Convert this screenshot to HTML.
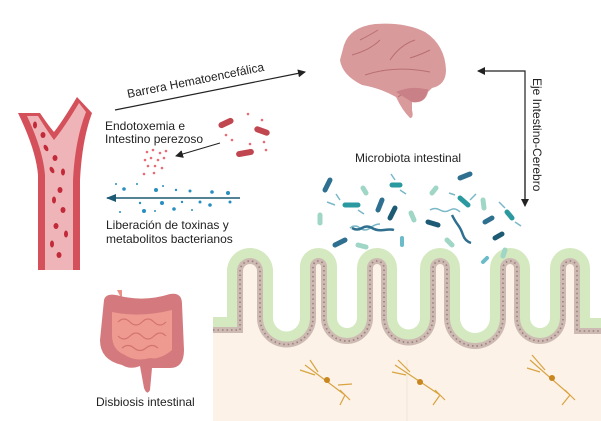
<!DOCTYPE html>
<html><head><meta charset="utf-8"><style>
html,body{margin:0;padding:0;background:#fff;}
svg{display:block;}
text{font-family:"Liberation Sans",sans-serif;fill:#222;font-size:12px;}
</style></head><body>
<svg width="601" height="421" viewBox="0 0 601 421" xmlns="http://www.w3.org/2000/svg">
<defs>
<marker id="ah" markerWidth="8" markerHeight="8" refX="7" refY="4" orient="auto" markerUnits="userSpaceOnUse"><path d="M0,0 L8,4 L0,8 Z" fill="#222"/></marker>
<marker id="ah2" markerWidth="10" markerHeight="8" refX="9" refY="4" orient="auto" markerUnits="userSpaceOnUse"><path d="M0,0 L10,4 L0,8 Z" fill="#1d5a74"/></marker>
</defs>
<path d="M213,317 L227,317 L227,271 A23,23 0 0 1 273,271 L273,318 A13.5,13.5 0 0 0 300,318 L300,266.5 A18.5,18.5 0 0 1 337,266.5 L337,318 A10,10 0 0 0 357,318 L357,268 A20,20 0 0 1 397,268 L397,318 A11.5,11.5 0 0 0 420,318 L420,268 A20,20 0 0 1 460,268 L460,318 A15,15 0 0 0 490,318 L490,268 A20,20 0 0 1 530,268 L530,318 A10,10 0 0 0 550,318 L550,268 A20,20 0 0 1 590,268 L590,318 L601,318 L601,421 L213,421 Z" fill="#d4e9bf"/>
<path d="M213,327 L237,327 L237,271 A13,13 0 0 1 263,271 L263,318 A23.5,23.5 0 0 0 310,318 L310,266.5 A8.5,8.5 0 0 1 327,266.5 L327,318 A20,20 0 0 0 367,318 L367,268 A10,10 0 0 1 387,268 L387,318 A21.5,21.5 0 0 0 430,318 L430,268 A10,10 0 0 1 450,268 L450,318 A25,25 0 0 0 500,318 L500,268 A10,10 0 0 1 520,268 L520,318 A20,20 0 0 0 560,318 L560,268 A10,10 0 0 1 580,268 L580,328 L601,328 L601,421 L213,421 Z" fill="#cdbab3"/>
<path d="M213,333 L243,333 L243,271 A7,7 0 0 1 257,271 L257,318 A29.5,29.5 0 0 0 316,318 L316,266.5 A2.5,2.5 0 0 1 321,266.5 L321,318 A26,26 0 0 0 373,318 L373,268 A4,4 0 0 1 381,268 L381,318 A27.5,27.5 0 0 0 436,318 L436,268 A4,4 0 0 1 444,268 L444,318 A31,31 0 0 0 506,318 L506,268 A4,4 0 0 1 514,268 L514,318 A26,26 0 0 0 566,318 L566,268 A4,4 0 0 1 574,268 L574,334 L601,334 L601,421 L213,421 Z" fill="#fcf2e8"/>
<path d="M213,330 L240,330 L240,271 A10,10 0 0 1 260,271 L260,318 A26.5,26.5 0 0 0 313,318 L313,266.5 A5.5,5.5 0 0 1 324,266.5 L324,318 A23,23 0 0 0 370,318 L370,268 A7,7 0 0 1 384,268 L384,318 A24.5,24.5 0 0 0 433,318 L433,268 A7,7 0 0 1 447,268 L447,318 A28,28 0 0 0 503,318 L503,268 A7,7 0 0 1 517,268 L517,318 A23,23 0 0 0 563,318 L563,268 A7,7 0 0 1 577,268 L577,331 L601,331" fill="none" stroke="#9c7f78" stroke-width="1.6" stroke-dasharray="1.5 3"/>
<line x1="407" y1="360" x2="407" y2="421" stroke="#efe6d8"/>
<g stroke="#d9a441" stroke-width="1.2" fill="none">
<path d="M305,365 L345,395 M310,360 L318,372 M300,370 L315,375 M340,390 L350,400 M345,395 L340,405 M338,385 L352,384"/>
<path d="M395,365 L440,395 M398,360 L410,372 M392,372 L406,375 M435,390 L445,400 M440,395 L433,405"/>
<path d="M530,360 L570,395 M532,355 L545,370 M527,368 L540,372 M565,390 L575,400 M570,395 L562,405"/>
</g>
<circle cx="327" cy="380" r="3" fill="#c9861f"/><circle cx="420" cy="382" r="3" fill="#c9861f"/><circle cx="552" cy="378" r="3" fill="#c9861f"/>
<g stroke-linecap="round">
<line x1="325" y1="190" x2="330" y2="180" stroke="#2f6f8f" stroke-width="5"/>
<line x1="345" y1="205" x2="358" y2="205" stroke="#2a9aa0" stroke-width="5"/>
<line x1="392" y1="185" x2="400" y2="185" stroke="#2a9aa0" stroke-width="5"/>
<line x1="378" y1="210" x2="382" y2="200" stroke="#2f6f8f" stroke-width="5"/>
<line x1="390" y1="218" x2="395" y2="208" stroke="#1d5a74" stroke-width="5"/>
<line x1="335" y1="245" x2="345" y2="240" stroke="#2f6f8f" stroke-width="5"/>
<line x1="460" y1="178" x2="470" y2="174" stroke="#2f6f8f" stroke-width="5"/>
<line x1="460" y1="198" x2="468" y2="205" stroke="#2a9aa0" stroke-width="5"/>
<line x1="428" y1="222" x2="438" y2="225" stroke="#1d5a74" stroke-width="5"/>
<line x1="485" y1="222" x2="492" y2="218" stroke="#2f6f8f" stroke-width="5"/>
<line x1="495" y1="238" x2="502" y2="234" stroke="#1d5a74" stroke-width="5"/>
<line x1="507" y1="212" x2="512" y2="218" stroke="#2a9aa0" stroke-width="5"/>
<line x1="402" y1="238" x2="402" y2="245" stroke="#6bbcc8" stroke-width="4"/>
<line x1="483" y1="262" x2="487" y2="258" stroke="#6bbcc8" stroke-width="4"/>
<line x1="363" y1="188" x2="366" y2="193" stroke="#9fd6c5" stroke-width="5"/>
<line x1="320" y1="215" x2="320" y2="223" stroke="#9fd6c5" stroke-width="5"/>
<line x1="358" y1="245" x2="366" y2="247" stroke="#9fd6c5" stroke-width="5"/>
<line x1="411" y1="213" x2="414" y2="220" stroke="#9fd6c5" stroke-width="5"/>
<line x1="432" y1="193" x2="436" y2="188" stroke="#9fd6c5" stroke-width="5"/>
<line x1="447" y1="240" x2="452" y2="245" stroke="#9fd6c5" stroke-width="5"/>
<line x1="483" y1="200" x2="484" y2="208" stroke="#9fd6c5" stroke-width="5"/>
<line x1="505" y1="250" x2="503" y2="256" stroke="#9fd6c5" stroke-width="5"/>
</g>
<g fill="none" stroke="#7ab8c8" stroke-width="1.5">
<path d="M350,228 q5,-4 10,0 t10,0 t10,-4"/>
<path d="M352,228 q5,3 10,0 t10,0 t12,2 t10,0" stroke="#2f6f8f" stroke-width="2.5"/>
<path d="M430,210 q5,-3 10,0 t10,0 t10,2"/>
<path d="M452,215 q3,6 6,10 t5,10 t8,8" stroke="#2f6f8f" stroke-width="2.5"/>
<path d="M335,205 l-8,-3 M340,200 l-4,-6 M358,210 l6,4 M395,180 l-4,-6 M400,190 l6,4 M470,200 l6,-6 M455,195 l-6,-2 M505,208 l-6,-6 M515,222 l6,4"/>
</g>
<path d="M18,113 L40,113 Q48,125 54,132 Q62,122 77,97 L92,113 Q82,140 80,180 L80,270 L38,270 L38,175 Q36,150 18,113 Z" fill="#d4505a"/>
<path d="M27,116 L38,116 Q48,132 54,140 Q64,128 79,103 L86,112 Q75,140 73,180 L73,270 L45,270 L45,175 Q43,150 27,116 Z" fill="#efb4b7"/>
<g fill="#c22a3a">
<ellipse cx="35" cy="125" rx="2" ry="3.5"/><ellipse cx="43" cy="135" rx="2.5" ry="3"/><ellipse cx="46" cy="148" rx="2" ry="3.5" transform="rotate(-30 46 148)"/><ellipse cx="55" cy="158" rx="2.5" ry="3"/>
<ellipse cx="52" cy="170" rx="2" ry="3.5" transform="rotate(-30 52 170)"/><ellipse cx="63" cy="172" rx="2" ry="3.5"/><ellipse cx="60" cy="190" rx="2.5" ry="3"/><ellipse cx="54" cy="200" rx="2" ry="3.5"/>
<ellipse cx="63" cy="210" rx="2.5" ry="3"/><ellipse cx="56" cy="226" rx="2.5" ry="3"/><ellipse cx="66" cy="234" rx="2" ry="3.5"/><ellipse cx="52" cy="244" rx="2" ry="3.5"/><ellipse cx="59" cy="255" rx="2.5" ry="3"/>
</g>
<line x1="115" y1="110" x2="305" y2="72" stroke="#222" stroke-width="1.2" marker-end="url(#ah)"/>
<text x="128" y="98" transform="rotate(-11.3 128 98)">Barrera Hematoencefálica</text>
<text x="105" y="130">Endotoxemia e</text>
<text x="105" y="143">Intestino perezoso</text>
<g fill="#c0474f">
<rect x="218" y="120" width="16" height="6" rx="3" transform="rotate(-25 226 123)"/>
<rect x="254" y="128" width="16" height="6" rx="3" transform="rotate(20 262 131)"/>
<rect x="236" y="150" width="18" height="6" rx="3" transform="rotate(-10 245 153)"/>
</g>
<g fill="#e86b75">
<circle cx="147" cy="152" r="1.3"/><circle cx="153" cy="150" r="1.3"/><circle cx="160" cy="153" r="1.3"/><circle cx="166" cy="151" r="1.3"/>
<circle cx="145" cy="160" r="1.3"/><circle cx="151" cy="158" r="1.3"/><circle cx="158" cy="160" r="1.3"/><circle cx="164" cy="158" r="1.3"/>
<circle cx="148" cy="166" r="1.3"/><circle cx="155" cy="166" r="1.3"/><circle cx="162" cy="168" r="1.3"/><circle cx="144" cy="174" r="1.3"/><circle cx="154" cy="173" r="1.3"/>
<circle cx="248" cy="114" r="1.3"/><circle cx="262" cy="120" r="1.3"/><circle cx="232" cy="140" r="1.3"/><circle cx="250" cy="144" r="1.3"/><circle cx="264" cy="142" r="1.3"/><circle cx="266" cy="150" r="1.3"/><circle cx="226" cy="135" r="1.3"/>
</g>
<line x1="220" y1="143" x2="176" y2="156" stroke="#222" stroke-width="1" marker-end="url(#ah)"/>
<line x1="240" y1="198" x2="107" y2="198" stroke="#1d5a74" stroke-width="1.5" marker-end="url(#ah2)"/>
<g fill="#2a8fc0">
<circle cx="124" cy="189" r="1.8"/><circle cx="137" cy="184" r="1"/><circle cx="156" cy="190" r="2"/><circle cx="176" cy="190" r="1.2"/><circle cx="190" cy="191" r="1.5"/><circle cx="212" cy="192" r="1.8"/><circle cx="228" cy="193" r="2"/><circle cx="116" cy="184" r="1"/><circle cx="163" cy="186" r="1"/>
<circle cx="140" cy="203" r="1.2"/><circle cx="162" cy="203" r="2"/><circle cx="182" cy="202" r="1.2"/><circle cx="200" cy="202" r="1.5"/><circle cx="210" cy="205" r="1.8"/><circle cx="230" cy="202" r="1.5"/><circle cx="144" cy="211" r="2"/><circle cx="174" cy="209" r="1.8"/><circle cx="192" cy="210" r="1"/><circle cx="155" cy="211" r="1"/><circle cx="120" cy="212" r="1"/>
</g>
<text x="106" y="229">Liberación de toxinas y</text>
<text x="106" y="243">metabolitos bacterianos</text>
<path d="M344,45 Q350,27 375,24 Q405,22 425,32 Q445,45 446,70 Q446,85 432,88 L428,92 Q425,104 412,102 L412,110 Q414,118 410,118 Q402,110 396,97 Q380,88 362,85 Q342,75 340,60 Z" fill="#d99a9c"/>
<path d="M365,75 Q395,65 430,72 M352,55 Q370,50 380,40 M390,60 Q400,45 415,40 M360,40 Q370,35 378,30 M410,58 Q420,55 430,50 M398,97 Q410,88 428,90" stroke="#b86f74" stroke-width="1" fill="none"/>
<path d="M396,92 Q412,85 428,90 Q425,104 412,102 Z" fill="#c98086"/>
<path d="M525,205 L525,71 L478,71" fill="none" stroke="#222" stroke-width="1.2" marker-end="url(#ah)"/>
<line x1="525" y1="150" x2="525" y2="206" stroke="#222" stroke-width="1.2" marker-end="url(#ah)"/>
<text x="533" y="78" transform="rotate(90 533 78)">Eje Intestino-Cerebro</text>
<text x="355" y="162">Microbiota intestinal</text>
<path d="M117,290 L122,290 L122,300 Z" fill="#e9928a"/>
<path d="M104,300 Q106,292 120,296 Q145,302 170,294 Q182,292 182,304 L184,350 Q184,368 170,368 L152,368 L150,390 Q147,396 144,388 L140,366 Q130,370 122,365 Q100,360 100,340 Z" fill="#d47a7e"/>
<path d="M112,312 Q140,318 172,310 L172,350 Q160,360 150,358 Q135,362 125,355 Q112,350 112,335 Z" fill="#ee9a90"/>
<path d="M118,322 q6,-6 12,0 t12,0 t12,0 t12,0 M118,336 q6,6 12,0 t12,0 t12,0 t12,0 M122,348 q6,-5 12,0 t12,0 t12,0" stroke="#d27470" fill="none" stroke-width="1.2"/>
<text x="96" y="406">Disbiosis intestinal</text>
</svg>
</body></html>
